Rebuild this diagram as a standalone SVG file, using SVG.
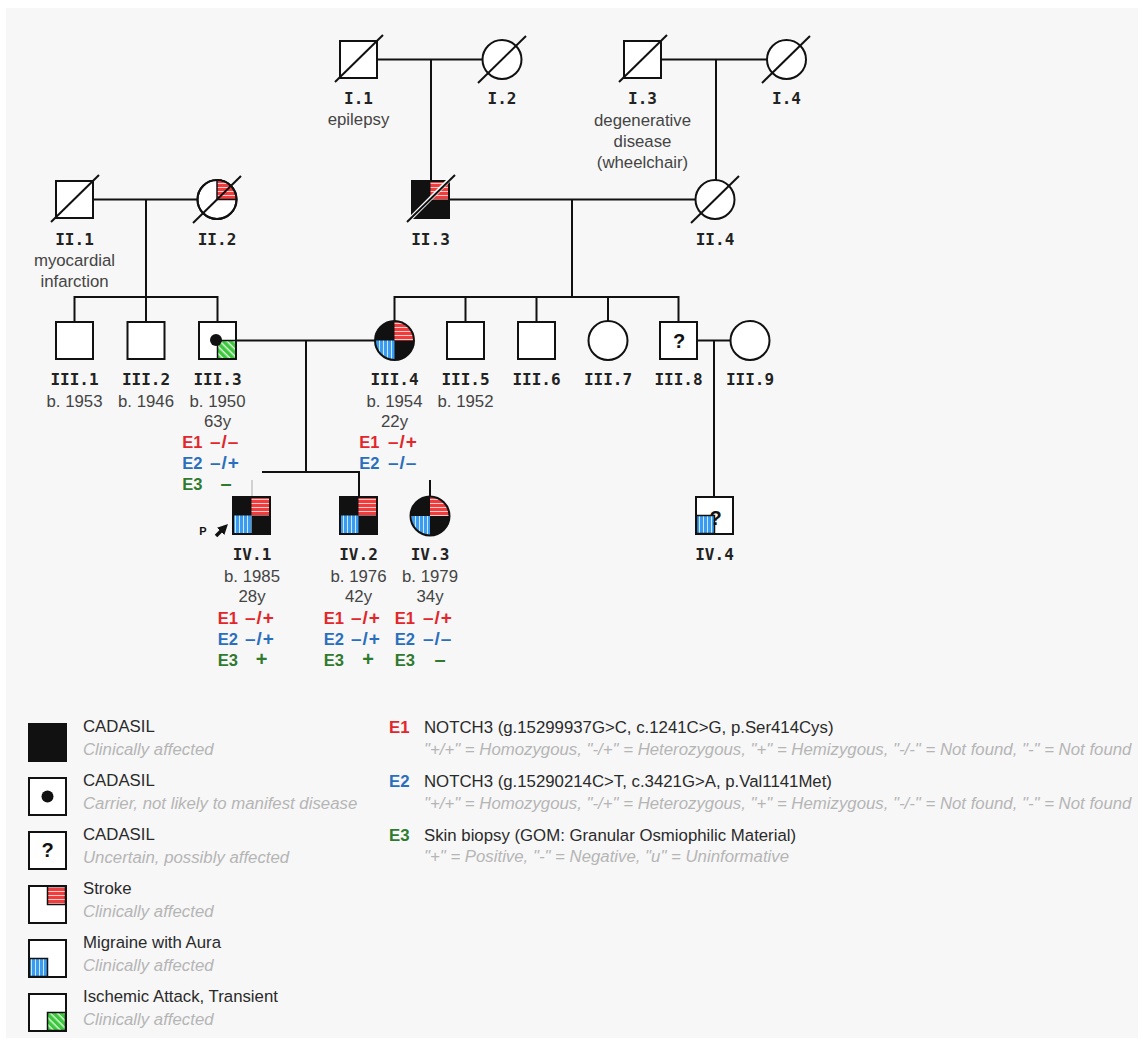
<svg xmlns="http://www.w3.org/2000/svg" width="1143" height="1046" viewBox="0 0 1143 1046">
<style>
.ln{stroke:#111;stroke-width:2;fill:none}
.thin{stroke:#aaa;stroke-width:1;fill:none}
.nd{fill:#fff;stroke:#111;stroke-width:2}
.bk{fill:#111;stroke:#111;stroke-width:2}
.q{stroke:#111;stroke-width:1.5}
.id{font-family:"DejaVu Sans Mono",monospace;font-weight:bold;font-size:16px;fill:#222;text-anchor:middle}
.tx{font-family:"Liberation Sans",Arial,sans-serif;font-size:16.8px;fill:#444;text-anchor:middle}
.lab{font-family:"Liberation Sans",Arial,sans-serif;font-weight:bold;font-size:16.5px;text-anchor:end}
.val{font-family:"Liberation Sans",Arial,sans-serif;font-weight:bold;font-size:19px;letter-spacing:1px}
.v1{font-family:"Liberation Sans",Arial,sans-serif;font-weight:bold;font-size:20px;text-anchor:middle}
.qm{font-family:"Liberation Sans",Arial,sans-serif;font-weight:bold;font-size:20px;fill:#111;text-anchor:middle}
.r{fill:#e2262b}.b{fill:#2a6fbd}.g{fill:#2f7a2f}
.lt{font-family:"Liberation Sans",Arial,sans-serif;font-size:16.8px;fill:#2a2a2a}
.li{font-family:"Liberation Sans",Arial,sans-serif;font-style:italic;font-size:16.8px;fill:#b5b5b5}
.le{font-family:"Liberation Sans",Arial,sans-serif;font-weight:bold;font-size:16.8px}
</style>
<defs>
<pattern id="pr" width="4" height="4" patternUnits="userSpaceOnUse"><rect width="4" height="4" fill="#f03c3c"/><rect y="3" width="4" height="1" fill="#fff" opacity="0.75"/></pattern>
<pattern id="pb" width="4" height="4" patternUnits="userSpaceOnUse"><rect width="4" height="4" fill="#3a9cf0"/><rect x="3" width="1" height="4" fill="#fff" opacity="0.75"/></pattern>
<pattern id="pg" width="5" height="5" patternUnits="userSpaceOnUse" patternTransform="rotate(-45)"><rect width="5" height="5" fill="#3cc83c"/><rect x="3.5" width="1.5" height="5" fill="#fff" opacity="0.8"/></pattern>
<marker id="ah" viewBox="0 0 10 10" refX="6" refY="5" markerWidth="3" markerHeight="3" orient="auto"><path d="M0,0 L10,5 L0,10 z" fill="#111"/></marker>
</defs>
<rect x="0" y="0" width="1143" height="1046" fill="#fff"/>
<rect x="6" y="8" width="1132" height="1030" fill="#f7f7f7"/>

<g id="connectors">
<line class="ln" x1="377" y1="59.5" x2="482.5" y2="59.5"/>
<line class="ln" x1="431" y1="59.5" x2="431" y2="181"/>
<line class="ln" x1="661" y1="59.5" x2="767" y2="59.5"/>
<line class="ln" x1="716" y1="59.5" x2="716" y2="180"/>
<line class="ln" x1="93" y1="199.5" x2="197.5" y2="199.5"/>
<line class="ln" x1="146" y1="199.5" x2="146" y2="297"/>
<line class="ln" x1="449" y1="199.5" x2="695.5" y2="199.5"/>
<line class="ln" x1="572" y1="199.5" x2="572" y2="297"/>
<path class="ln" d="M74.5,322 V297 H217.5 V322 M146,297 V322"/>
<path class="ln" d="M394.5,321 V297 H678.5 V322 M465.5,297 V322 M536.5,297 V322 M608,297 V321"/>
<line class="ln" x1="236" y1="340.5" x2="375" y2="340.5"/>
<line class="ln" x1="306" y1="340.5" x2="306" y2="472"/>
<line class="ln" x1="697" y1="340.5" x2="730.5" y2="340.5"/>
<line class="ln" x1="714" y1="340.5" x2="714" y2="497"/>
<path class="ln" d="M262,472 H359 V497"/>
<line class="thin" x1="252" y1="480" x2="252" y2="497"/>
<line class="ln" x1="430" y1="480" x2="430" y2="496.5"/>
</g>

<g id="I1"><rect class="nd" x="340" y="41" width="37" height="37"/><line class="ln" x1="335" y1="82" x2="383" y2="35"/><text class="id" x="358.5" y="104">I.1</text><text class="tx" x="358.5" y="125">epilepsy</text></g>
<g id="I2"><circle class="nd" cx="502" cy="59.5" r="19.5"/><line class="ln" x1="478" y1="83" x2="526" y2="36"/><text class="id" x="502" y="104">I.2</text></g>
<g id="I3"><rect class="nd" x="624" y="41" width="37" height="37"/><line class="ln" x1="619" y1="82" x2="667" y2="35"/><text class="id" x="642.5" y="104">I.3</text><text class="tx" x="642.5" y="126">degenerative</text><text class="tx" x="642.5" y="147">disease</text><text class="tx" x="642.5" y="168">(wheelchair)</text></g>
<g id="I4"><circle class="nd" cx="786.5" cy="59.5" r="19.5"/><line class="ln" x1="762" y1="83" x2="810" y2="36"/><text class="id" x="786.5" y="104">I.4</text></g>

<g id="II1"><rect class="nd" x="56" y="181" width="37" height="37"/><line class="ln" x1="51" y1="222" x2="99" y2="175"/><text class="id" x="74.5" y="245">II.1</text><text class="tx" x="74.5" y="266">myocardial</text><text class="tx" x="74.5" y="287">infarction</text></g>
<g id="II2"><circle class="nd" cx="217" cy="199.5" r="19.5"/><path class="q" d="M217,199.5 V180 A19.5,19.5 0 0 1 236.5,199.5 Z" fill="url(#pr)"/><circle cx="217" cy="199.5" r="19.5" fill="none" stroke="#111" stroke-width="2"/><line class="ln" x1="193" y1="223" x2="241" y2="176"/><text class="id" x="217" y="245">II.2</text></g>
<g id="II3"><rect class="bk" x="412" y="181" width="37" height="37"/><rect x="430.5" y="182" width="17.5" height="17.5" fill="url(#pr)"/><line x1="411" y1="218" x2="450" y2="179" stroke="#fff" stroke-width="4"/><line class="ln" x1="407" y1="222" x2="455" y2="175"/><text class="id" x="430.5" y="245">II.3</text></g>
<g id="II4"><circle class="nd" cx="715" cy="199.5" r="19.5"/><line class="ln" x1="691" y1="223" x2="739" y2="176"/><text class="id" x="715" y="245">II.4</text></g>

<g id="III1"><rect class="nd" x="56" y="322" width="37" height="37"/><text class="id" x="74.5" y="385">III.1</text><text class="tx" x="74.5" y="407">b. 1953</text></g>
<g id="III2"><rect class="nd" x="127.5" y="322" width="37" height="37"/><text class="id" x="146" y="385">III.2</text><text class="tx" x="146" y="407">b. 1946</text></g>
<g id="III3"><rect class="nd" x="199" y="322" width="37" height="37"/><rect class="q" x="217.5" y="340.5" width="18.5" height="18.5" fill="url(#pg)"/><rect x="199" y="322" width="37" height="37" fill="none" stroke="#111" stroke-width="2"/><circle cx="216" cy="340" r="6" fill="#111"/>
<text class="id" x="217.5" y="385">III.3</text><text class="tx" x="217.5" y="407">b. 1950</text><text class="tx" x="217.5" y="427">63y</text>
<text class="lab r" x="202.5" y="448">E1</text><text class="val r" x="210" y="448">–/–</text>
<text class="lab b" x="202.5" y="469">E2</text><text class="val b" x="210" y="469">–/+</text>
<text class="lab g" x="202.5" y="490">E3</text><text class="v1 g" x="226" y="490">–</text></g>
<g id="III4"><circle class="bk" cx="394.5" cy="340.5" r="19.5"/><path d="M394.5,340.5 V322 A18.5,18.5 0 0 1 413,340.5 Z" fill="url(#pr)"/><path d="M394.5,340.5 V359 A18.5,18.5 0 0 1 376,340.5 Z" fill="url(#pb)"/>
<text class="id" x="394.5" y="385">III.4</text><text class="tx" x="394.5" y="407">b. 1954</text><text class="tx" x="394.5" y="427">22y</text>
<text class="lab r" x="379.5" y="448">E1</text><text class="val r" x="388" y="448">–/+</text>
<text class="lab b" x="379.5" y="469">E2</text><text class="val b" x="388" y="469">–/–</text></g>
<g id="III5"><rect class="nd" x="447" y="322" width="37" height="37"/><text class="id" x="465.5" y="385">III.5</text><text class="tx" x="465.5" y="407">b. 1952</text></g>
<g id="III6"><rect class="nd" x="518" y="322" width="37" height="37"/><text class="id" x="536.5" y="385">III.6</text></g>
<g id="III7"><circle class="nd" cx="608" cy="340.5" r="19.5"/><text class="id" x="608" y="385">III.7</text></g>
<g id="III8"><rect class="nd" x="660" y="322" width="37" height="37"/><text class="qm" x="679" y="348">?</text><text class="id" x="678.5" y="385">III.8</text></g>
<g id="III9"><circle class="nd" cx="750" cy="340.5" r="19.5"/><text class="id" x="750" y="385">III.9</text></g>

<g id="IV1"><rect class="bk" x="233" y="497" width="37" height="37"/><rect x="251.5" y="498" width="17.5" height="17.5" fill="url(#pr)"/><rect x="234" y="515.5" width="17.5" height="17.5" fill="url(#pb)"/>
<text x="203" y="535" font-family="Liberation Sans,Arial,sans-serif" font-weight="bold" font-size="11" fill="#111" text-anchor="middle">P</text>
<line x1="216" y1="536" x2="225" y2="527" stroke="#111" stroke-width="3.5" marker-end="url(#ah)"/>
<text class="id" x="252" y="560">IV.1</text><text class="tx" x="252" y="582">b. 1985</text><text class="tx" x="252" y="602">28y</text>
<text class="lab r" x="238" y="624">E1</text><text class="val r" x="245" y="624">–/+</text>
<text class="lab b" x="238" y="645">E2</text><text class="val b" x="245" y="645">–/+</text>
<text class="lab g" x="238" y="666">E3</text><text class="v1 g" x="261.5" y="666">+</text></g>
<g id="IV2"><rect class="bk" x="340" y="497" width="37" height="37"/><rect x="358.5" y="498" width="17.5" height="17.5" fill="url(#pr)"/><rect x="341" y="515.5" width="17.5" height="17.5" fill="url(#pb)"/>
<text class="id" x="358.5" y="560">IV.2</text><text class="tx" x="358.5" y="582">b. 1976</text><text class="tx" x="358.5" y="602">42y</text>
<text class="lab r" x="344" y="624">E1</text><text class="val r" x="351" y="624">–/+</text>
<text class="lab b" x="344" y="645">E2</text><text class="val b" x="351" y="645">–/+</text>
<text class="lab g" x="344" y="666">E3</text><text class="v1 g" x="368" y="666">+</text></g>
<g id="IV3"><circle class="bk" cx="430" cy="516" r="19.5"/><path d="M430,516 V497.5 A18.5,18.5 0 0 1 448.5,516 Z" fill="url(#pr)"/><path d="M430,516 V534.5 A18.5,18.5 0 0 1 411.5,516 Z" fill="url(#pb)"/>
<text class="id" x="430" y="560">IV.3</text><text class="tx" x="430" y="582">b. 1979</text><text class="tx" x="430" y="602">34y</text>
<text class="lab r" x="415" y="624">E1</text><text class="val r" x="423" y="624">–/+</text>
<text class="lab b" x="415" y="645">E2</text><text class="val b" x="423" y="645">–/–</text>
<text class="lab g" x="415" y="666">E3</text><text class="v1 g" x="440" y="666">–</text></g>
<g id="IV4"><rect class="nd" x="696" y="497" width="37" height="37"/><rect class="q" x="696.5" y="515.5" width="18" height="18" fill="url(#pb)"/><rect x="696" y="497" width="37" height="37" fill="none" stroke="#111" stroke-width="2"/><text class="qm" x="715.5" y="525">?</text><text class="id" x="714.5" y="560">IV.4</text></g>

<g id="legend">
<rect class="bk" x="29" y="724" width="37" height="37"/>
<text class="lt" x="83" y="732">CADASIL</text><text class="li" x="83" y="755">Clinically affected</text>
<rect class="nd" x="29" y="778" width="37" height="37"/><circle cx="47.5" cy="796.5" r="6" fill="#111"/>
<text class="lt" x="83" y="786">CADASIL</text><text class="li" x="83" y="809">Carrier, not likely to manifest disease</text>
<rect class="nd" x="29" y="832" width="37" height="37"/><text class="qm" x="47.5" y="857">?</text>
<text class="lt" x="83" y="840">CADASIL</text><text class="li" x="83" y="863">Uncertain, possibly affected</text>
<rect class="nd" x="29" y="886" width="37" height="37"/><rect class="q" x="47.5" y="886.5" width="18" height="18" fill="url(#pr)"/><rect x="29" y="886" width="37" height="37" fill="none" stroke="#111" stroke-width="2"/>
<text class="lt" x="83" y="894">Stroke</text><text class="li" x="83" y="917">Clinically affected</text>
<rect class="nd" x="29" y="940" width="37" height="37"/><rect class="q" x="29.5" y="958.5" width="18" height="18" fill="url(#pb)"/><rect x="29" y="940" width="37" height="37" fill="none" stroke="#111" stroke-width="2"/>
<text class="lt" x="83" y="948">Migraine with Aura</text><text class="li" x="83" y="971">Clinically affected</text>
<rect class="nd" x="29" y="994" width="37" height="37"/><rect class="q" x="47.5" y="1012.5" width="18" height="18" fill="url(#pg)"/><rect x="29" y="994" width="37" height="37" fill="none" stroke="#111" stroke-width="2"/>
<text class="lt" x="83" y="1002">Ischemic Attack, Transient</text><text class="li" x="83" y="1025">Clinically affected</text>

<text class="le r" x="389" y="733">E1</text><text class="lt" x="424" y="733">NOTCH3 (g.15299937G&gt;C, c.1241C&gt;G, p.Ser414Cys)</text>
<text class="li" x="424" y="755">"+/+" = Homozygous, "-/+" = Heterozygous, "+" = Hemizygous, "-/-" = Not found, "-" = Not found</text>
<text class="le b" x="389" y="787">E2</text><text class="lt" x="424" y="787">NOTCH3 (g.15290214C&gt;T, c.3421G&gt;A, p.Val1141Met)</text>
<text class="li" x="424" y="809">"+/+" = Homozygous, "-/+" = Heterozygous, "+" = Hemizygous, "-/-" = Not found, "-" = Not found</text>
<text class="le g" x="389" y="841">E3</text><text class="lt" x="424" y="841">Skin biopsy (GOM: Granular Osmiophilic Material)</text>
<text class="li" x="424" y="862">"+" = Positive, "-" = Negative, "u" = Uninformative</text>
</g>
</svg>
